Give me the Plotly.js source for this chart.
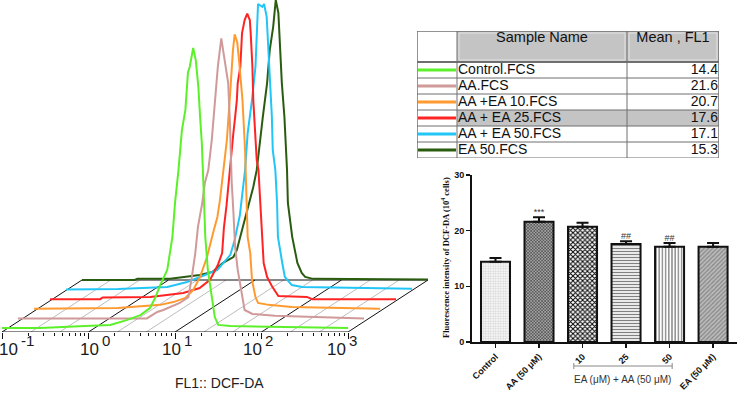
<!DOCTYPE html>
<html><head><meta charset="utf-8">
<script src="https://cdn.plot.ly/plotly-3.0.1.min.js"></script>
<style>html,body{margin:0;padding:0;background:#fff}#chart{width:740px;height:400px}</style>
</head><body><div id="chart"></div>
<script>
// ---------- Flow cytometry histograms (x = log10 FL1, y = % of mode) ----------
const sampleNames  = ['Control.FCS','AA.FCS','AA +EA 10.FCS','AA + EA 25.FCS','AA + EA 50.FCS','EA 50.FCS'];
const sampleMeans  = ['14.4','21.6','20.7','17.6','17.1','15.3'];
const tableHeaders = ['', 'Sample Name', 'Mean , FL1'];
const highlightRow = 3;
const sampleColors = ['#5cf02a','#d09a9a','#ff9a30','#ff2424','#22c6f6','#2a5c10'];

const controlLogX = [-1,-0.56,-0.04,0.25,0.45,0.6,0.71,0.77,0.83,0.91,0.97,1.0,1.04,1.08,1.12,1.15,1.17,1.21,1.24,1.27,1.29,1.31,1.33,1.35,1.38,1.43,1.46,1.5,1.64,3.0];
const controlCount= [0,0,0.7,1.1,2.9,4.6,7.1,10.7,15.4,20.7,32.5,44.6,56.4,70.7,77.9,91.4,93.2,100,95.7,86.1,75.4,66.1,50,32.5,20.7,11.1,3.9,1.1,0.7,0];

const aaLogX  = [-1,0.49,0.61,0.68,0.87,0.97,1.01,1.05,1.08,1.13,1.16,1.2,1.24,1.28,1.31,1.35,1.37,1.41,1.43,1.45,1.47,1.49,1.51,1.54,1.59,1.62,1.71,1.97,3.0];
const aaCount = [0,0,2.3,3.0,5.5,7.6,14.8,23.4,32.6,41.2,48.4,53,63.7,78,89.8,100,95.9,88.7,84,70,49,38,25.5,17.3,7.6,3.0,1.6,0.9,0];

const ea10LogX  = [-1,-0.03,0.46,0.61,0.75,0.84,0.92,1.0,1.07,1.12,1.15,1.19,1.23,1.27,1.29,1.3,1.32,1.35,1.37,1.41,1.44,1.46,1.47,1.5,1.52,1.56,1.59,1.71,1.98,3.0];
const ea10Count = [0,0.3,1.4,2.4,3.9,6.7,11.4,18.5,27.1,32.8,38.9,50.6,60.3,78.1,88.9,92.4,98,95,88.9,74.6,56.7,38.9,25.6,19.9,10.3,4.2,2.1,1.4,0.6,0];

const ea25LogX  = [-1,-0.42,-0.39,0.16,0.54,0.73,0.85,0.94,0.99,1.01,1.04,1.06,1.08,1.1,1.12,1.14,1.16,1.17,1.2,1.22,1.25,1.28,1.31,1.32,1.34,1.35,1.37,1.39,1.41,1.43,1.45,1.47,1.51,1.57,1.64,1.97,2.03,3.0];
const ea25Count = [0,0,0.6,0.8,2.2,4,6.9,12.2,16.5,25.4,33.3,40.4,47.2,53.3,59.4,65,71.1,77.2,83,95,99.7,102,99.7,95,83,71.1,59.4,49.7,46.1,34.3,22.2,12.9,7.9,4.4,1.1,0.8,0,0];

const ea50LogX  = [-1,-0.4,0.17,0.4,0.55,0.75,0.9,0.95,1.01,1.07,1.1,1.15,1.19,1.21,1.22,1.27,1.29,1.32,1.34,1.36,1.38,1.39,1.42,1.44,1.45,1.5,1.53,1.61,1.73,3.0];
const ea50Count = [0,0.2,0.9,2.7,4.5,7,12.4,17.7,26.6,42.7,55.9,67.7,79.5,91.6,102,101,102,97.4,85.6,73.8,61.6,49.9,42.7,30.9,18.8,9.5,4.5,1.6,0.9,0.3];

const eaOnlyLogX  = [-1,-0.39,-0.36,0.02,0.36,0.51,0.63,0.75,0.79,0.83,0.88,0.94,0.98,1.02,1.06,1.09,1.14,1.17,1.21,1.23,1.24,1.27,1.29,1.31,1.34,1.36,1.37,1.38,1.43,1.49,1.54,1.58,1.67,3.0];
const eaOnlyCount = [0,0,0.4,0.4,1.8,2.9,6.1,8.2,10.7,15.4,21.4,27.5,33.2,39.3,48.9,58.2,70.4,82.1,90.4,96.4,100,95.4,82.1,70.4,58.2,46.4,39.3,27.5,15.4,6.1,2.5,1.1,0.4,0.2];

const histTickVals   = [-1,0,1,2,3];
const histTickBase   = '10';
const histTickExps   = ['-1','0','1','2','3'];
const histAxisTitle  = 'FL1:: DCF-DA';

// ---------- Bar chart ----------
const barCategories = ['Control','AA (50 μM)','10','25','50','EA (50 μM)'];
const barValues     = [14.4, 21.6, 20.7, 17.6, 17.1, 17.1];
const barErrors     = [0.7, 0.8, 0.7, 0.5, 0.7, 0.7];
const sigLabels     = ['', '***', '', '##', '##', ''];
const barTickVals   = [0, 10, 20, 30];
const barYTitle     = 'Fluorescence intensity of DCF-DA (10<sup>4</sup> cells)';
const bracketLabel  = 'EA (μM) + AA (50 μM)';

// ---------- styling / geometry ----------
const layerDX = 0.185, layerDY0 = 1.43, layerDY = 3.43;   // per-layer pseudo-3D shift
const floorDX = 0.925, floorDY = 18.57;                   // floor depth
const labelNudge = [18, 12, 7.5, 2, 0];                   // perspective drift of tick labels (px)
const SANS = 'Liberation Sans, Arial, sans-serif';
// table geometry in pixels (relative to table's top-left)
const tW = 302, colEdges = [0, 40, 210, 302], headH = 31, rowH = 16;
const tH = headH + rowH * sampleNames.length;

const series = [
  [controlLogX, controlCount], [aaLogX, aaCount], [ea10LogX, ea10Count],
  [ea25LogX, ea25Count], [ea50LogX, ea50Count], [eaOnlyLogX, eaOnlyCount]
];

const traces = [];
// floor grid
const majX = [], majY = [], minX = [], minY = [];
for (let i = 0; i <= 12; i++) {
  const v = histTickVals[0] + i / 3;
  const tx = (i % 3 === 0) ? majX : minX, ty = (i % 3 === 0) ? majY : minY;
  tx.push(v, v + floorDX, null); ty.push(0, floorDY, null);
}
traces.push({x: minX, y: minY, mode: 'lines', line: {color: '#bdbdbd', width: 1}, hoverinfo: 'skip'});
traces.push({x: majX, y: majY, mode: 'lines', line: {color: '#111', width: 1}, hoverinfo: 'skip'});
const lo = histTickVals[0], hi = histTickVals[histTickVals.length - 1];
traces.push({x: [lo + floorDX, hi + floorDX], y: [floorDY, floorDY], mode: 'lines', line: {color: '#111', width: 1}, hoverinfo: 'skip'});
traces.push({x: [lo, hi], y: [0, 0], mode: 'lines', line: {color: '#111', width: 1}, hoverinfo: 'skip'});

// curves (back layer first)
for (let k = series.length - 1; k >= 0; k--) {
  const [lx, cnt] = series[k];
  traces.push({
    x: lx.map(v => v + k * layerDX),
    y: cnt.map(c => c + layerDY0 + k * layerDY),
    mode: 'lines', line: {color: sampleColors[k], width: 2}, name: sampleNames[k], hoverinfo: 'skip'
  });
}

// ---------- table (drawn on its own pixel-unit axes x4/y4) ----------
const rowMid = sampleNames.map((n, i) => headH + rowH * i + rowH / 2);
sampleNames.forEach((n, i) => {
  traces.push({x: [colEdges[0] + 1, colEdges[1] - 1], y: [rowMid[i], rowMid[i]], mode: 'lines',
    line: {color: sampleColors[i], width: 3}, xaxis: 'x4', yaxis: 'y4', hoverinfo: 'skip'});
});
traces.push({x: sampleNames.map(() => colEdges[1] + 1), y: rowMid, text: sampleNames, mode: 'text',
  textposition: 'middle right', xaxis: 'x4', yaxis: 'y4', cliponaxis: false,
  textfont: {family: SANS, size: 14, color: '#111'}, hoverinfo: 'skip'});
traces.push({x: sampleMeans.map(() => colEdges[3] - 1), y: rowMid, text: sampleMeans, mode: 'text',
  textposition: 'middle left', xaxis: 'x4', yaxis: 'y4', cliponaxis: false,
  textfont: {family: SANS, size: 14, color: '#111'}, hoverinfo: 'skip'});
traces.push({x: [(colEdges[1] + colEdges[2]) / 2, (colEdges[2] + colEdges[3]) / 2], y: [7, 7],
  text: tableHeaders.slice(1), mode: 'text', textposition: 'middle center', xaxis: 'x4', yaxis: 'y4', cliponaxis: false,
  textfont: {family: SANS, size: 14.5, color: '#111'}, hoverinfo: 'skip'});

const shapes = [];
const T = {xref: 'x4', yref: 'y4'};
shapes.push(Object.assign({type: 'rect', x0: colEdges[1], x1: tW, y0: 0, y1: headH, fillcolor: '#c4c4c4', line: {width: 0}, layer: 'below'}, T));
shapes.push(Object.assign({type: 'rect', x0: colEdges[1], x1: tW, y0: headH + rowH * highlightRow, y1: headH + rowH * (highlightRow + 1),
  fillcolor: '#c4c4c4', line: {width: 0}, layer: 'below'}, T));
// header inner bevel
shapes.push(Object.assign({type: 'rect', x0: colEdges[1] + 2, x1: colEdges[2] - 2, y0: 2, y1: headH - 2, line: {color: '#e2e2e2', width: 1}, layer: 'below'}, T));
shapes.push(Object.assign({type: 'rect', x0: colEdges[2] + 2, x1: tW - 2, y0: 2, y1: headH - 2, line: {color: '#e2e2e2', width: 1}, layer: 'below'}, T));
for (let r = 0; r <= sampleNames.length; r++) {
  const y = headH + rowH * r;
  shapes.push(Object.assign({type: 'line', x0: 0, x1: tW, y0: y, y1: y, line: {color: '#6f6f6f', width: r === 0 ? 2 : 1}}, T));
}
shapes.push(Object.assign({type: 'line', x0: 0, x1: tW, y0: 0, y1: 0, line: {color: '#6f6f6f', width: 1.5}}, T));
colEdges.forEach((cx, j) => {
  shapes.push(Object.assign({type: 'line', x0: cx, x1: cx, y0: 0, y1: tH, line: {color: '#6f6f6f', width: (j === 0 || j === 3) ? 1.5 : 1}}, T));
});

// ---------- bars ----------
traces.push({
  type: 'bar', x: barCategories, y: barValues, xaxis: 'x2', yaxis: 'y2', width: 0.667,
  marker: {
    color: '#ffffff', line: {color: '#111', width: 2},
    pattern: {
      shape:   ['.', 'x', 'x', '-', '|', '/'],
      fgcolor: ['#cfcfcf', '#4a4a4a', '#000000', '#808080', '#6a6a6a', '#8a8a8a'],
      bgcolor: ['#f8f8f8', '#a4a4a4', '#ffffff', '#ffffff', '#ffffff', '#bdbdbd'],
      size:    [2.5, 2.2, 3.4, 3, 3.2, 3],
      solidity:[0.4, 0.5, 0.5, 0.45, 0.35, 0.45],
      fillmode: 'replace'
    }
  },
  error_y: {type: 'data', symmetric: false, array: barErrors, arrayminus: barErrors.map(() => 0),
    color: '#111', thickness: 2, width: 6},
  hoverinfo: 'skip'
});
traces.push({
  type: 'scatter', mode: 'text', x: barCategories, y: barValues.map((v, i) => v + barErrors[i]),
  text: sigLabels, textposition: 'top center', xaxis: 'x2', yaxis: 'y2', cliponaxis: false,
  textfont: {family: SANS, size: 9, color: '#333'}, hoverinfo: 'skip'
});

// front-axis tick labels: base "10" plus a raised exponent
const annotations = [];
histTickVals.forEach((v, i) => {
  annotations.push({x: v, y: 1 - 349/400, xref: 'x', yref: 'paper', xanchor: 'right', yanchor: 'middle',
    text: histTickBase, showarrow: false, xshift: labelNudge[i], font: {family: SANS, size: 17, color: '#1a1a1a'}});
  annotations.push({x: v, y: 1 - 340/400, xref: 'x', yref: 'paper', xanchor: 'left', yanchor: 'middle',
    text: histTickExps[i], showarrow: false, xshift: labelNudge[i] - 1, font: {family: SANS, size: 15, color: '#1a1a1a'}});
});
annotations.push({x: 173/740, y: 1 - 383/400, xref: 'paper', yref: 'paper', yanchor: 'middle', text: histAxisTitle, showarrow: false,
  font: {family: SANS, size: 14, color: '#222'}});
annotations.push({x: 445/740, y: 1 - 258/400, xref: 'paper', yref: 'paper', xanchor: 'center', yanchor: 'middle',
  text: barYTitle, showarrow: false, textangle: -90,
  font: {family: 'Liberation Serif, Times New Roman, serif', size: 8.5, color: '#111', weight: 'bold'}});
annotations.push({x: 2.93, y: 1 - 379/400, xref: 'x2', yref: 'paper', yanchor: 'middle', text: bracketLabel, showarrow: false,
  font: {family: SANS, size: 10, color: '#333'}});

shapes.push(
  {type: 'line', xref: 'x2', yref: 'paper', x0: 1.8, x1: 4.06, y0: 1 - 366/400, y1: 1 - 366/400, line: {color: '#888', width: 1}},
  {type: 'line', xref: 'x2', yref: 'paper', x0: 1.8, x1: 1.8, y0: 1 - 363/400, y1: 1 - 369/400, line: {color: '#888', width: 1}},
  {type: 'line', xref: 'x2', yref: 'paper', x0: 4.06, x1: 4.06, y0: 1 - 363/400, y1: 1 - 369/400, line: {color: '#888', width: 1}}
);

const minorVals = [];
for (let d = lo; d < hi; d++) for (let m = 2; m <= 9; m++) minorVals.push(d + Math.log10(m));

const layout = {
  width: 740, height: 400, margin: {l: 0, r: 0, t: 0, b: 0},
  paper_bgcolor: '#fff', plot_bgcolor: 'rgba(0,0,0,0)', showlegend: false,
  xaxis: {domain: [2/740, 430/740], range: [-1, -1 + 428/86.5], showgrid: false, zeroline: false, showline: false,
    tickmode: 'array', tickvals: histTickVals, ticks: 'outside', ticklen: 6, tickcolor: '#111', tickwidth: 1,
    showticklabels: false, anchor: 'y',
    minor: {tickvals: minorVals, ticks: 'outside', ticklen: 3, tickcolor: '#111', tickwidth: 1, showgrid: false}},
  yaxis: {domain: [68/400, 1], range: [0, 332/2.8], visible: false, fixedrange: true},
  xaxis2: {domain: [472/740, 737/740], range: [-0.54, 5.55], type: 'category', anchor: 'y2',
    showline: true, linecolor: '#111', linewidth: 2, ticks: 'outside', ticklen: 4, tickwidth: 1.5, tickcolor: '#111',
    tickangle: -45, tickfont: {family: SANS, size: 9, color: '#111', weight: 'bold'},
    showgrid: false, zeroline: false},
  yaxis2: {domain: [1 - 342/400, 1 - 175/400], range: [0, 30], anchor: 'x2', tickvals: barTickVals,
    showline: true, linecolor: '#111', linewidth: 2, ticks: 'outside', ticklen: 4, tickwidth: 1.5, tickcolor: '#111',
    tickfont: {family: SANS, size: 9, color: '#111', weight: 'bold'},
    showgrid: false, zeroline: false},
  xaxis4: {domain: [417/740, (417 + tW)/740], range: [0, tW], visible: false, anchor: 'y4'},
  yaxis4: {domain: [1 - (31 + tH)/400, 1 - 31/400], range: [tH, 0], visible: false, anchor: 'x4'},
  annotations, shapes
};

Plotly.newPlot('chart', traces, layout, {staticPlot: true, displayModeBar: false});
</script></body></html>
